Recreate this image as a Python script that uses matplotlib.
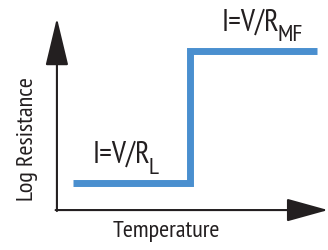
import matplotlib
matplotlib.use('Agg')
import matplotlib.pyplot as plt

# step curve: log resistance vs temperature (arbitrary units)
temperature = [0.6, 4.9, 4.9, 9.6]
log_resistance = [1.4, 1.4, 8.3, 8.3]

low_label = ('I=V/R', 'L')
high_label = ('I=V/R', 'MF')

plt.rcParams['font.family'] = ['PT Sans Narrow', 'DejaVu Sans']
ink = '#231f20'

fig = plt.figure(figsize=(3.28, 2.5), dpi=100)
ax = fig.add_axes([0, 0, 1, 1])
ax.set_xlim(-2.10, 10.0)
ax.set_ylim(-2.08, 10.94)
ax.axis('off')

# axes with arrow heads
arrow = dict(arrowstyle='-|>,head_length=3.0,head_width=0.72', mutation_scale=10,
             color=ink, lw=1.5, shrinkA=0, shrinkB=0)
ax.annotate('', xy=(0, 10), xytext=(0, -0.05), arrowprops=arrow)
arrow_x = dict(arrow, arrowstyle='-|>,head_length=2.6,head_width=0.72')
ax.annotate('', xy=(10, 0), xytext=(-0.05, 0), arrowprops=arrow_x)

ax.plot(temperature, log_resistance, color='#4a8fcf', lw=5,
        solid_joinstyle='miter', solid_capstyle='butt')


def label(x, y, parts):
    main = ax.text(x, y, parts[0], fontsize=22, va='baseline', ha='left', color=ink)
    ax.annotate(parts[1], xy=(1, 0), xycoords=main, xytext=(-1.2, -7),
                textcoords='offset points', fontsize=17.5, va='bottom', ha='left',
                color=ink)


label(1.33, 2.45, low_label)
label(6.09, 9.37, high_label)

ax.text(-1.10, 3.7, 'Log Resistance', rotation=90, fontsize=17.5, ha='center',
        va='center', color=ink)
ax.text(4.02, -1.41, 'Temperature', fontsize=17.5, ha='center', va='baseline', color=ink)

fig.savefig('out.png', dpi=100)
